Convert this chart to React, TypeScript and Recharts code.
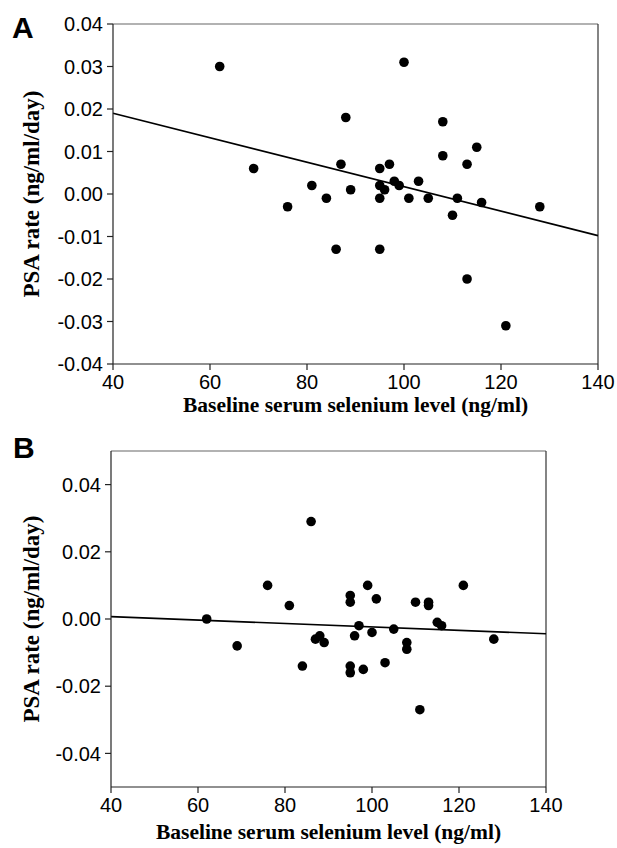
import {
  ScatterChart, Scatter, XAxis, YAxis, ReferenceLine, Label,
} from "recharts";

// baseline serum selenium (ng/ml), same patients in both panels
const selenium = [62, 69, 76, 81, 84, 86, 87, 88, 89, 95, 95, 95, 95, 96, 97, 98, 99, 100, 101, 103, 105, 108, 108, 110, 111, 113, 113, 115, 116, 121, 128];

// panel A: PSA rate
const rateA = [0.030, 0.006, -0.003, 0.002, -0.001, -0.013, 0.007, 0.018, 0.001, 0.006, 0.002, -0.001, -0.013, 0.001, 0.007, 0.003, 0.002, 0.031, -0.001, 0.003, -0.001, 0.017, 0.009, -0.005, -0.001, 0.007, -0.020, 0.011, -0.002, -0.031, -0.003];

// panel B: PSA rate
const rateB = [0.000, -0.008, 0.010, 0.004, -0.014, 0.029, -0.006, -0.005, -0.007, 0.007, 0.005, -0.014, -0.016, -0.005, -0.002, -0.015, 0.010, -0.004, 0.006, -0.013, -0.003, -0.007, -0.009, 0.005, -0.027, 0.005, 0.004, -0.001, -0.002, 0.010, -0.006];

// fitted regression lines (value at x = 40 and x = 140)
const fitX = [40, 140];
const fitA = [0.019, -0.0098];
const fitB = [0.0007, -0.0044];

const xTicks = [40, 60, 80, 100, 120, 140];
const yTicksA = [-0.04, -0.03, -0.02, -0.01, 0, 0.01, 0.02, 0.03, 0.04];
const yTicksB = [-0.04, -0.02, 0, 0.02, 0.04];

const X_TITLE = "Baseline serum selenium level (ng/ml)";
const Y_TITLE = "PSA rate (ng/ml/day)";

const pointsA = selenium.map((x, i) => ({ x, y: rateA[i] }));
const pointsB = selenium.map((x, i) => ({ x, y: rateB[i] }));

const tickStyle = { fontSize: 20, fill: "#000", fontFamily: "'Liberation Sans', Arial, sans-serif" };
const titleFont = "'Liberation Serif', 'Times New Roman', serif";
const axisColor = "#222";

function Dot(props: any) {
  const { cx, cy } = props;
  if (cx == null || cy == null) return null;
  return <circle cx={cx} cy={cy} r={4.8} fill="#000" />;
}

function XTitle(props: any) {
  const vb = props.viewBox || { x: 0, y: 0, width: 0, height: 0 };
  return (
    <text
      x={vb.x + vb.width / 2}
      y={vb.y + props.dy0}
      textAnchor="middle"
      fontFamily={titleFont}
      fontWeight="bold"
      fontSize={21.5}
      fill="#000"
    >
      {X_TITLE}
    </text>
  );
}

function YTitle(props: any) {
  const vb = props.viewBox || { x: 0, y: 0, width: 0, height: 0 };
  const cx = props.cx0;
  const cy = vb.y + vb.height / 2;
  return (
    <text
      x={cx}
      y={cy}
      transform={`rotate(-90, ${cx}, ${cy})`}
      textAnchor="middle"
      dominantBaseline="central"
      fontFamily={titleFont}
      fontWeight="bold"
      fontSize={23}
      fill="#000"
    >
      {Y_TITLE}
    </text>
  );
}

function Panel({ points, fit, yTicks, domain, width, height, margin, xTitleDy }: any) {
  return (
    <ScatterChart width={width} height={height} margin={margin}>
      <XAxis
        type="number"
        dataKey="x"
        domain={[40, 140]}
        ticks={xTicks}
        tick={tickStyle}
        tickSize={6}
        tickMargin={5}
        height={30}
        stroke={axisColor}
        strokeWidth={1.2}
        tickLine={{ stroke: axisColor }}
      >
        <Label content={<XTitle dy0={xTitleDy} />} />
      </XAxis>
      <YAxis
        type="number"
        dataKey="y"
        domain={domain}
        ticks={yTicks}
        tick={tickStyle}
        tickFormatter={(v: number) => v.toFixed(2)}
        tickSize={6}
        tickMargin={4}
        width={60}
        stroke={axisColor}
        strokeWidth={1.2}
        tickLine={{ stroke: axisColor }}
        allowDataOverflow
      >
        <Label content={<YTitle cx0={31} />} />
      </YAxis>
      <ReferenceLine y={domain[1]} stroke="#666" strokeWidth={1.2} />
      <ReferenceLine x={140} stroke="#333" strokeWidth={1.2} />
      <ReferenceLine
        segment={[{ x: fitX[0], y: fit[0] }, { x: fitX[1], y: fit[1] }]}
        stroke="#000"
        strokeWidth={1.6}
      />
      <Scatter data={points} shape={<Dot />} isAnimationActive={false} />
    </ScatterChart>
  );
}

export default function App() {
  const letter = {
    position: "absolute" as const,
    fontFamily: "'Liberation Sans', Arial, sans-serif",
    fontWeight: "bold" as const,
    fontSize: 30,
    lineHeight: "30px",
  };
  return (
    <div style={{ position: "absolute", left: 0, top: 0, width: 617, height: 848, background: "#fff" }}>
      <div style={{ position: "absolute", left: 0, top: 0 }}>
        <Panel
          points={pointsA}
          fit={fitA}
          yTicks={yTicksA}
          domain={[-0.04, 0.04]}
          width={617}
          height={420}
          margin={{ top: 24, right: 19, bottom: 26, left: 53 }}
          xTitleDy={48}
        />
      </div>
      <div style={{ position: "absolute", left: 0, top: 420 }}>
        <Panel
          points={pointsB}
          fit={fitB}
          yTicks={yTicksB}
          domain={[-0.05, 0.05]}
          width={617}
          height={428}
          margin={{ top: 31, right: 71, bottom: 31, left: 51 }}
          xTitleDy={52}
        />
      </div>
      <div style={{ ...letter, left: 12, top: 13 }}>A</div>
      <div style={{ ...letter, left: 13, top: 433 }}>B</div>
    </div>
  );
}
